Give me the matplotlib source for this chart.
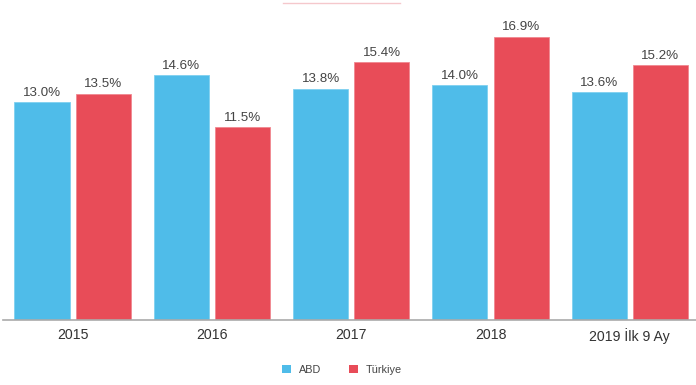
import matplotlib
matplotlib.use("Agg")
import matplotlib.pyplot as plt
import numpy as np
from matplotlib.patches import Patch

categories = ["2015", "2016", "2017", "2018", "2019 İlk 9 Ay"]
abd = [13.0, 14.6, 13.8, 14.0, 13.6]
turkiye = [13.5, 11.5, 15.4, 16.9, 15.2]
series_names = ["ABD", "Türkiye"]

blue = "#4FBCE9"
red = "#E84C58"
txt = "#444444"

plt.rcParams['font.family'] = ['Liberation Sans', 'DejaVu Sans']

fig = plt.figure(figsize=(6.96, 3.85), dpi=100)
W, H = 696, 385
left, right = 3, 699.5
bottom_px, top_px = 320, 18.3
ax = fig.add_axes([left / W, (H - bottom_px) / H, (right - left) / W, (bottom_px - top_px) / H])

x = np.arange(len(categories))
bw = 0.395
off = 0.22
b1 = ax.bar(x - off, abd, bw, color=blue, edgecolor="#7fd0f0", linewidth=0.6)
b2 = ax.bar(x + off, turkiye, bw, color=red, edgecolor="#f08890", linewidth=0.6)

for bars, vals in ((b1, abd), (b2, turkiye)):
    for r, v in zip(bars, vals):
        ax.text(r.get_x() + r.get_width() / 2, v + 0.2, f"{v:.1f}%", ha="center", va="bottom",
                fontsize=9.6, color=txt)

ax.set_xlim(-0.5, len(categories) - 0.5)
ax.set_ylim(0, 18)
ax.set_xticks(x)
ax.set_xticklabels(categories, fontsize=10.2, color="#333333")
ax.tick_params(axis="x", length=0, pad=6)
ax.set_yticks([])
for s in ["top", "left", "right"]:
    ax.spines[s].set_visible(False)
ax.spines["bottom"].set_color("#aaaaaa")
ax.spines["bottom"].set_linewidth(1.2)

handles = [Patch(facecolor=blue, label=series_names[0]), Patch(facecolor=red, label=series_names[1])]
fig.legend(handles=handles, loc="center", bbox_to_anchor=(342 / W, (H - 370) / H), ncol=2,
           frameon=False, fontsize=7.8, handlelength=0.8, handleheight=0.8, handletextpad=0.7,
           columnspacing=2.6, labelcolor="#444444")

# faint decorative line at top
fig.add_artist(plt.Line2D([283 / W, 400 / W], [(H - 3) / H, (H - 3) / H], color="#f5c8cc", lw=1))

fig.savefig("out.png", dpi=100)
